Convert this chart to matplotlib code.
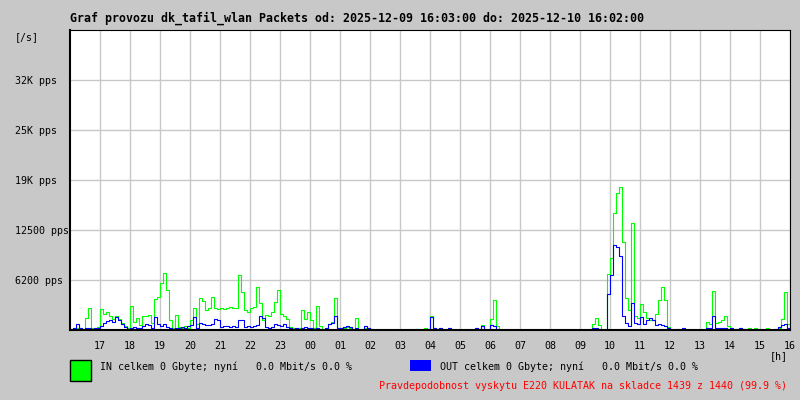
import numpy as np
import matplotlib
matplotlib.use("Agg")
import matplotlib.pyplot as plt
from matplotlib.patches import Rectangle

# hodiny na ose x (graf zacina v 16:00 predchoziho dne)
hour_labels = ["17", "18", "19", "20", "21", "22", "23", "00", "01", "02", "03", "04",
               "05", "06", "07", "08", "09", "10", "11", "12", "13", "14", "15", "16"]

# packets per second, 6 min kroky (10 hodnot na hodinu)
in_pps = [
    0, 100, 300, 200, 100, 1500, 2700, 300, 200, 400,            # 16
    2600, 2000, 2200, 1800, 1400, 1700, 1400, 900, 500, 200,     # 17
    3000, 1000, 1500, 600, 1700, 1800, 1900, 900, 3900, 4100,    # 18
    5900, 7100, 5000, 1200, 300, 1900, 400, 300, 500, 300,       # 19
    1200, 2700, 700, 4000, 3600, 2500, 2800, 4100, 2700, 2600,   # 20
    2700, 2600, 2800, 2900, 2700, 2800, 6900, 4800, 2500, 2300,  # 21
    2800, 2900, 5400, 3400, 1300, 1900, 1700, 2200, 3500, 5000,  # 22
    2000, 1700, 1400, 400, 300, 200, 300, 2500, 1400, 2200,      # 23
    1200, 200, 3000, 500, 0, 100, 800, 1000, 4000, 300,          # 00
    300, 300, 400, 300, 0, 1500, 0, 0, 200, 200,                 # 01
    0, 0, 0, 0, 0, 0, 0, 0, 0, 0,                                # 02
    0, 0, 0, 0, 0, 100, 0, 0, 200, 0,                            # 03
    1700, 300, 100, 300, 0, 0, 200, 0, 0, 0,                     # 04
    0, 0, 0, 0, 0, 200, 0, 600, 0, 0,                            # 05
    1400, 3700, 500, 0, 0, 0, 0, 0, 0, 0,                        # 06
    0, 0, 0, 0, 0, 0, 0, 0, 0, 0,                                # 07
    0, 0, 0, 0, 0, 0, 0, 0, 0, 0,                                # 08
    0, 0, 0, 0, 700, 1500, 600, 0, 0, 7000,                      # 09
    9000, 14600, 17100, 17900, 11000, 4000, 2500, 13400, 1800, 1500,  # 10
    3300, 2200, 1500, 1300, 1200, 2000, 3800, 5400, 3800, 400,   # 11
    0, 0, 0, 0, 0, 0, 0, 0, 0, 0,                                # 12
    0, 0, 1000, 800, 4900, 900, 1000, 1300, 1700, 500,           # 13
    200, 0, 0, 300, 0, 0, 200, 0, 300, 0,                        # 14
    0, 0, 200, 0, 0, 0, 300, 1400, 4700, 800,                    # 15
]

out_pps = [
    100, 200, 700, 300, 0, 200, 300, 100, 300, 200,
    500, 900, 1100, 1300, 1000, 1600, 1200, 700, 400, 100,
    300, 400, 300, 200, 500, 700, 600, 300, 1600, 700,
    500, 700, 400, 200, 100, 300, 200, 400, 200, 500,
    600, 1600, 300, 900, 700, 600, 600, 700, 1400, 1200,
    400, 500, 500, 400, 500, 400, 1300, 1200, 400, 500,
    400, 500, 600, 1700, 1500, 400, 300, 400, 800, 600,
    500, 800, 400, 200, 100, 300, 100, 300, 400, 300,
    200, 100, 200, 100, 0, 300, 800, 900, 1800, 200,
    300, 400, 500, 400, 0, 200, 0, 0, 500, 200,
    100, 0, 0, 0, 0, 0, 0, 0, 0, 0,
    0, 0, 0, 0, 0, 100, 0, 0, 0, 100,
    1600, 300, 100, 300, 0, 0, 200, 0, 0, 0,
    0, 0, 0, 0, 0, 200, 0, 500, 0, 0,
    600, 500, 100, 0, 0, 0, 0, 0, 0, 0,
    0, 0, 0, 0, 0, 0, 0, 0, 0, 0,
    0, 0, 0, 0, 0, 0, 0, 0, 0, 0,
    0, 0, 0, 0, 200, 200, 100, 0, 0, 4500,
    6900, 10600, 10400, 9200, 1800, 900, 500, 3400, 900, 800,
    1600, 800, 1300, 1500, 1200, 600, 800, 600, 500, 200,
    0, 0, 100, 0, 200, 0, 0, 0, 0, 0,
    0, 0, 200, 300, 1700, 300, 300, 300, 200, 100,
    200, 0, 100, 200, 100, 0, 100, 0, 0, 0,
    0, 0, 0, 0, 0, 100, 400, 600, 700, 300,
]

y_ticks = [6250, 12500, 18750, 25000, 31250]
y_labels = ["6200 pps", "12500 pps", "19K pps", "25K pps", "32K pps"]
y_max = 37500

title = "Graf provozu dk_tafil_wlan Packets od: 2025-12-09 16:03:00 do: 2025-12-10 16:02:00"
in_text = "IN celkem 0 Gbyte; nyní   0.0 Mbit/s 0.0 %"
out_text = "OUT celkem 0 Gbyte; nyní   0.0 Mbit/s 0.0 %"
note_text = "Pravdepodobnost vyskytu E220 KULATAK na skladce 1439 z 1440 (99.9 %)"

bg = "#c8c8c8"
mono = "DejaVu Sans Mono"

n = len(in_pps)
t = np.arange(n + 1) * 24.0 / n
in_y = np.append(in_pps, in_pps[-1])
out_y = np.append(out_pps, out_pps[-1])

fig = plt.figure(figsize=(8, 4), dpi=100, facecolor=bg)
ax = fig.add_axes([70 / 800, 70 / 400, 720 / 800, 300 / 400])
ax.set_facecolor("white")

ax.plot(t, in_y, drawstyle="steps-post", color="#00ff00", lw=0.8)
ax.plot(t, out_y, drawstyle="steps-post", color="#0000ff", lw=0.8)

ax.set_xlim(0, 24)
ax.set_ylim(0, y_max)
ax.set_xticks(np.arange(1, 25))
ax.set_xticklabels(hour_labels, family=mono, fontsize=7.2)
ax.get_xticklabels()[-1].set_x(23.9)
ax.set_yticks(y_ticks)
ax.set_yticklabels(y_labels, family=mono, fontsize=7.2, ha="left")
ax.tick_params(axis="x", length=0, pad=8)
ax.tick_params(axis="y", length=0, pad=39.6)
ax.grid(True, color="#c8c8c8", lw=1.0)
ax.set_axisbelow(True)

for side in ["top", "right"]:
    ax.spines[side].set_linewidth(0.8)
for side in ["left", "bottom"]:
    ax.spines[side].set_linewidth(1.5)

fig.text(70 / 800, 1 - 18 / 400, title, family=mono, fontweight="bold",
         fontsize=8.4, ha="left", va="center")
fig.text(15 / 800, 1 - 37 / 400, "[/s]", family=mono, fontsize=7.2, ha="left", va="center")
fig.text(779 / 800, 1 - 356 / 400, "[h]", family=mono, fontsize=7.2, ha="center", va="center")

fig.patches.append(Rectangle((70 / 800, 1 - 381 / 400), 21 / 800, 21 / 400,
                             transform=fig.transFigure, facecolor="#00ff00",
                             edgecolor="black", lw=1.0))
fig.patches.append(Rectangle((410 / 800, 1 - 371 / 400), 21 / 800, 11 / 400,
                             transform=fig.transFigure, facecolor="#0000ff",
                             edgecolor="none"))
fig.text(100 / 800, 1 - 367 / 400, in_text, family=mono, fontsize=7.2, ha="left", va="center")
fig.text(440 / 800, 1 - 367 / 400, out_text, family=mono, fontsize=7.2, ha="left", va="center")
fig.text(787 / 800, 1 - 386 / 400, note_text, family=mono, fontsize=7.2,
         ha="right", va="center", color="red")

fig.savefig("out.png", dpi=100, facecolor=bg)
